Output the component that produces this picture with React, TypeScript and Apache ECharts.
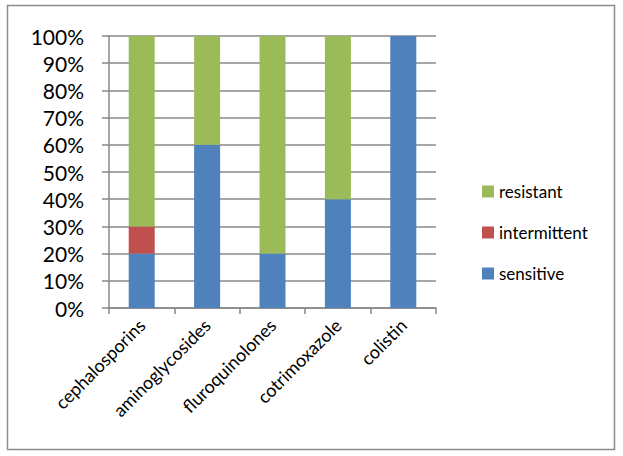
import React, { useEffect, useRef } from "react";
import * as echarts from "echarts";

const categories = ["cephalosporins", "aminoglycosides", "fluroquinolones", "cotrimoxazole", "colistin"];
const sensitive = [20, 60, 20, 40, 100];
const intermittent = [10, 0, 0, 0, 0];
const resistant = [70, 40, 80, 60, 0];
const yTicks = [0, 10, 20, 30, 40, 50, 60, 70, 80, 90, 100];

export default function App() {
  const ref = useRef<HTMLDivElement>(null);
  useEffect(() => {
    const chart = echarts.init(ref.current!, undefined, { renderer: "svg" });
    const font = "Lato, 'Liberation Sans', sans-serif";
    chart.setOption({
      animation: false,
      textStyle: { fontFamily: font },
      graphic: [
        {
          type: "rect",
          shape: { x: 7.5, y: 5.5, width: 607, height: 444 },
          style: { fill: "none", stroke: "#8c8c8c", lineWidth: 1.5 },
        },
      ],
      grid: { left: 109, right: 187, top: 36, bottom: 148 },
      legend: {
        orient: "vertical",
        left: 477,
        top: 178,
        itemWidth: 12,
        itemHeight: 12,
        itemGap: 24,
        icon: "rect",
        data: ["resistant", "intermittent", "sensitive"],
        textStyle: { fontSize: 17, color: "#000", fontFamily: font },
      },
      xAxis: {
        type: "category",
        data: categories,
        axisLine: { lineStyle: { color: "#888", width: 1.5 } },
        axisTick: { show: true, length: 6, lineStyle: { color: "#888", width: 1.5 } },
        axisLabel: { rotate: 45, fontSize: 18, color: "#000", margin: 14, interval: 0 },
      },
      yAxis: {
        type: "value",
        min: 0,
        max: 100,
        interval: 10,
        axisLine: { show: true, lineStyle: { color: "#888", width: 1.5 } },
        axisTick: { show: true, length: 7, lineStyle: { color: "#888", width: 1.5 } },
        splitLine: { lineStyle: { color: "#888", width: 1.5 } },
        axisLabel: {
          fontSize: 21,
          color: "#000",
          margin: 25,
          formatter: (v: number) => (yTicks.includes(v) ? v + "%" : ""),
        },
      },
      series: [
        { name: "sensitive", type: "bar", stack: "a", data: sensitive, barWidth: 26, itemStyle: { color: "#4F81BD" } },
        { name: "intermittent", type: "bar", stack: "a", data: intermittent, barWidth: 26, itemStyle: { color: "#C0504D" } },
        { name: "resistant", type: "bar", stack: "a", data: resistant, barWidth: 26, itemStyle: { color: "#9BBB59" } },
      ],
    });
    return () => chart.dispose();
  }, []);
  return (
    <div
      ref={ref}
      style={{ position: "fixed", left: 0, top: 0, width: 623, height: 456, background: "#fff" }}
    />
  );
}
